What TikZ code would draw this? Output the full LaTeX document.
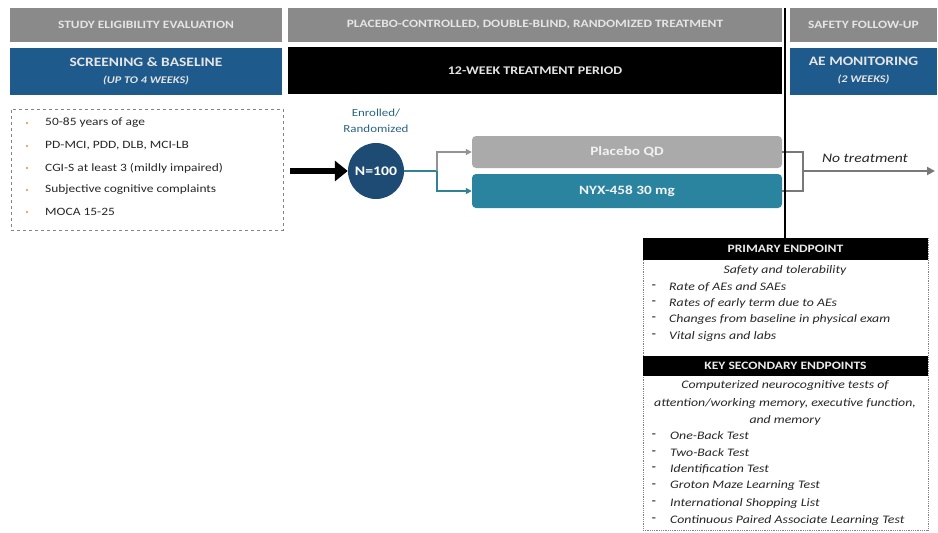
\documentclass[tikz,border=0pt]{standalone}
\usepackage{fontspec}
\setmainfont{Carlito}[FakeStretch=1.2]
\usetikzlibrary{arrows.meta}
\definecolor{hdrgray}{RGB}{138,138,138}
\definecolor{hdrblue}{RGB}{31,90,140}
\definecolor{circblue}{RGB}{30,75,115}
\definecolor{plgray}{RGB}{170,170,170}
\definecolor{nyxteal}{RGB}{42,132,160}
\definecolor{lineteal}{RGB}{50,130,150}
\definecolor{enrtxt}{RGB}{40,100,130}
\definecolor{bulor}{RGB}{232,140,60}
\definecolor{brgray}{RGB}{120,120,120}
\definecolor{dashgray}{RGB}{130,130,140}
\tikzset{
  graybar/.style={fill=hdrgray, text=white!90!black, minimum height=34pt, inner sep=0pt, font=\bfseries\fontsize{11.2}{13}\selectfont},
  bluebar/.style={fill=hdrblue, text=white!90!black, minimum height=47pt, inner sep=0pt, align=center},
  blackbar/.style={fill=black, text=white!90!black, minimum height=47pt, inner sep=0pt, font=\bfseries\fontsize{11.7}{14}\selectfont},
  armbox/.style={rounded corners=4pt, minimum width=310pt, inner sep=0pt, text=white!95!black, font=\bfseries\fontsize{12.7}{15}\selectfont},
  bul/.style={anchor=west, inner sep=0pt, font=\fontsize{11.2}{13}\selectfont, text=black!85},
  ept/.style={inner sep=0pt, font=\itshape\fontsize{11.5}{13}\selectfont, text=black!85},
  eptl/.style={ept, anchor=west},
  ephdr/.style={fill=black, text=white!92!black, minimum width=285pt, inner sep=0pt, font=\bfseries\fontsize{11.3}{13}\selectfont},
  dashi/.style={anchor=center, inner sep=0pt, font=\bfseries\fontsize{11}{13}\selectfont, text=black!80},
}
\begin{document}
\begin{tikzpicture}[x=1pt,y=-1pt]
\useasboundingbox (0,0) rectangle (938,533);
% top row
\node[graybar, minimum width=272pt] (h1) at (146,25) {STUDY ELIGIBILITY EVALUATION};
\node[graybar, minimum width=494pt] (h2) at (535,25) {PLACEBO-CONTROLLED, DOUBLE-BLIND, RANDOMIZED TREATMENT};
\node[graybar, minimum width=147pt] (h3) at (863.5,25) {SAFETY FOLLOW-UP};
% second row
\node[bluebar, minimum width=272pt] (b1) at (146,71) {{\bfseries\fontsize{12.9}{14}\selectfont SCREENING \& BASELINE}\\[5pt]{\bfseries\itshape\fontsize{10.2}{12}\selectfont (UP TO 4 WEEKS)}};
\node[blackbar, minimum width=494pt] (b2) at (535,70.5) {12-WEEK TREATMENT PERIOD};
\node[bluebar, minimum width=147pt] (b3) at (863.5,71) {{\bfseries\fontsize{12.9}{14}\selectfont AE MONITORING}\\[5pt]{\bfseries\itshape\fontsize{10.2}{12}\selectfont (2 WEEKS)}};
% eligibility box
\node[draw=dashgray, dashed, line width=0.8pt, minimum width=272pt, minimum height=121pt, inner sep=0pt] (elig) at (147,169.5) {};
\foreach \yy/\tt [count=\i] in {123/50-85 years of age, 146/{PD-MCI, PDD, DLB, MCI-LB}, 168/CGI-S at least 3 (mildly impaired), 190/Subjective cognitive complaints, 212/MOCA 15-25}{
  \node[bul] (e\i) at (45,\yy) {\tt};
  \fill[bulor] (27,\yy) circle (1.1pt);
}
% enrollment
\node[circle, fill=circblue, minimum size=56pt, inner sep=0pt, text=white, font=\bfseries\fontsize{13.1}{15}\selectfont] (N) at (376,171) {N=100};
\node[align=center, inner sep=0pt, text=enrtxt, font=\fontsize{10.8}{16}\selectfont] (enr) at (376,121) {Enrolled/\\Randomized};
\coordinate (start) at (290,171);
\draw[line width=5.5pt, -{Triangle[length=13pt,width=20pt]}] (start) -- (N.west);
% arms
\node[armbox, fill=plgray, minimum height=32pt] (pl) at (627,152) {Placebo QD};
\node[armbox, fill=nyxteal, minimum height=34pt] (nyx) at (627,191) {NYX-458 30 mg};
\coordinate (br) at (437,171);
\draw[lineteal, line width=2pt] (N.east) -- (br);
\draw[brgray!80, line width=2pt, -{Triangle[length=6pt,width=6pt]}] (br) |- (pl.west);
\draw[lineteal, line width=2pt, -{Triangle[length=6pt,width=6pt]}] (br) |- (nyx.west);
% bracket
\coordinate (bk) at (803,171);
\coordinate (end) at (935,171);
\draw[brgray, line width=2pt] (pl.east) -- (bk |- pl.east) -- (bk |- nyx.east) -- (nyx.east);
\draw[brgray, line width=2pt, -{Triangle[length=8pt,width=8pt]}] (bk) -- (end);
\node[inner sep=0pt, font=\itshape\fontsize{13}{15}\selectfont, text=black!85] (nt) at (865,158) {No treatment};
% endpoints box
\node[draw=dashgray, densely dotted, line width=0.8pt, minimum width=285pt, minimum height=292pt, inner sep=0pt] (epbox) at (785.5,384) {};
\node[ephdr, minimum height=22pt] (ph) at (785.5,249) {PRIMARY ENDPOINT};
\node[ephdr, minimum height=20pt] (sh) at (785.5,365.5) {KEY SECONDARY ENDPOINTS};
% vertical divider
\coordinate (vtop) at (785,8);
\draw[black, line width=1.6pt] (vtop) -- (ph.north -| vtop);
\node[ept] (p0) at (785,270) {Safety and tolerability};
\foreach \yy/\tt [count=\i] in {287/Rate of AEs and SAEs, 303/Rates of early term due to AEs, 319/Changes from baseline in physical exam, 336/Vital signs and labs}{
  \node[eptl] (p\i) at (669,\yy) {\tt};
  \node[dashi] (pd\i) at (654,\yy) {-};
}
\node[ept] (s0) at (785,385) {Computerized neurocognitive tests of};
\node[ept] (s0b) at (785,403) {attention/working memory, executive function,};
\node[ept] (s0c) at (785,420) {and memory};
\foreach \yy/\tt [count=\i] in {436/One-Back Test, 453/Two-Back Test, 469/Identification Test, 486/Groton Maze Learning Test, 503/International Shopping List, 520/Continuous Paired Associate Learning Test}{
  \node[eptl] (s\i) at (670,\yy) {\tt};
  \node[dashi] (sd\i) at (654,\yy) {-};
}
\end{tikzpicture}
\end{document}
